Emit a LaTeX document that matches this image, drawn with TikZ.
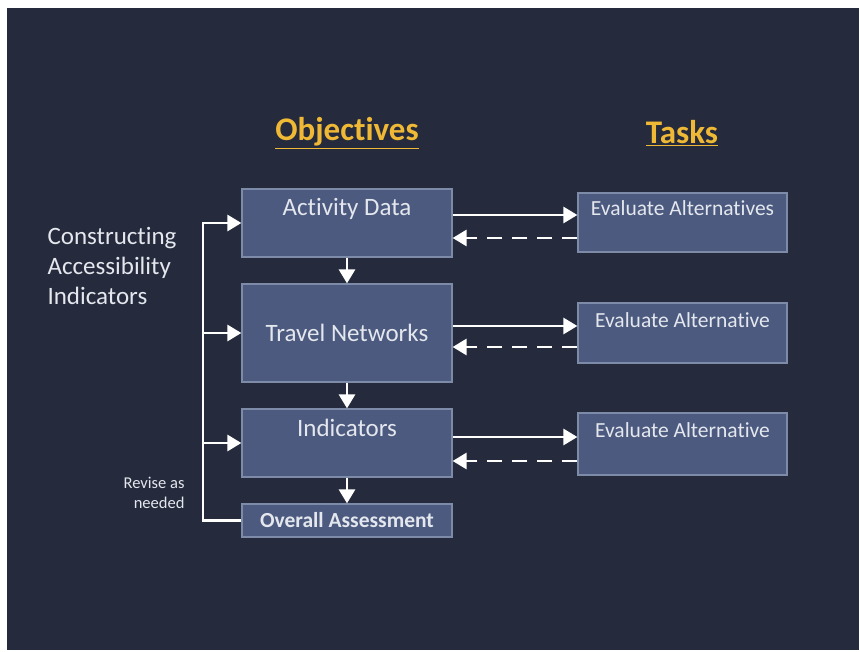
\documentclass[tikz,border=0pt]{standalone}
\usepackage{fontspec}
\setmainfont{Carlito}[Ligatures=NoCommon]
\usetikzlibrary{arrows.meta}
\definecolor{slidebg}{HTML}{252B3C}
\definecolor{boxfill}{HTML}{4B5A7E}
\definecolor{boxline}{HTML}{7D8AA8}
\definecolor{lighttext}{HTML}{E4E7EE}
\definecolor{gold}{HTML}{F0B935}
\begin{document}
\begin{tikzpicture}[x=1pt,y=-1pt,
    box/.style={draw=boxline,line width=1.2pt,fill=boxfill,text=lighttext,
      inner sep=0pt,minimum width=210pt,font=\fontsize{25}{30}\selectfont},
    task/.style={box,minimum width=209pt,font=\fontsize{21.5}{26}\selectfont},
    head/.style={text=gold,font=\fontsize{33}{40}\selectfont\bfseries},
    conn/.style={draw=white,line width=2.8pt,-{Triangle[length=14pt,width=16pt]}},
    back/.style={conn,dash pattern=on 15pt off 10pt}]
  % slide
  \useasboundingbox (0,0) rectangle (860,652);
  \fill[white] (0,0) rectangle (860,652);
  \fill[slidebg] (7,8) rectangle (859,650);

  \node[head] (obj) at (347,133) {\underline{Objectives}};
  \node[head] (tsk) at (682,133) {\underline{Tasks}};

  \node[text=lighttext,align=left,anchor=west,font=\fontsize{25}{30}\selectfont]
    (cai) at (44,266) {Constructing\\Accessibility\\Indicators};
  \node[text=lighttext,align=right,anchor=east,font=\fontsize{16.5}{20}\selectfont]
    (rev) at (188,493) {Revise as\\needed};

  % objectives
  \node[box,text height=27pt,text depth=41pt] (act) at (347,223) {Activity Data};
  \node[box,minimum height=98pt] (trv) at (347,333) {Travel Networks};
  \node[box,text height=27pt,text depth=41pt] (ind) at (347,443) {Indicators};
  \node[box,minimum height=33pt,font=\fontsize{21.5}{26}\selectfont\bfseries] (ovr) at (347,520.5) {Overall Assessment};

  % tasks
  \node[task,text height=23pt,text depth=36pt] (ev1) at (682.5,222.5) {Evaluate Alternatives};
  \node[task,text height=25pt,text depth=35pt] (ev2) at (682.5,333) {Evaluate Alternative};
  \node[task,text height=25pt,text depth=37pt] (ev3) at (682.5,444) {Evaluate Alternative};

  \draw[conn] (act) -- (trv);
  \draw[conn] (trv) -- (ind);
  \draw[conn] (ind) -- (ovr);

  \draw[conn] ([yshift=8pt]act.east) -- ([yshift=8pt]act.east -| ev1.west);
  \draw[back] ([yshift=-15pt]act.east -| ev1.west) -- ([yshift=-15pt]act.east);
  \draw[conn] ([yshift=7pt]trv.east) -- ([yshift=7pt]trv.east -| ev2.west);
  \draw[back] ([yshift=-14pt]trv.east -| ev2.west) -- ([yshift=-14pt]trv.east);
  \draw[conn] ([yshift=6pt]ind.east) -- ([yshift=6pt]ind.east -| ev3.west);
  \draw[back] ([yshift=-18pt]ind.east -| ev3.west) -- ([yshift=-18pt]ind.east);

  % revise loop
  \coordinate (top) at (203,223);
  \draw[conn] (ovr.west) -| (top) -- (act.west);
  \draw[conn] (trv.west -| top) -- (trv.west);
  \draw[conn] (ind.west -| top) -- (ind.west);
\end{tikzpicture}
\end{document}
